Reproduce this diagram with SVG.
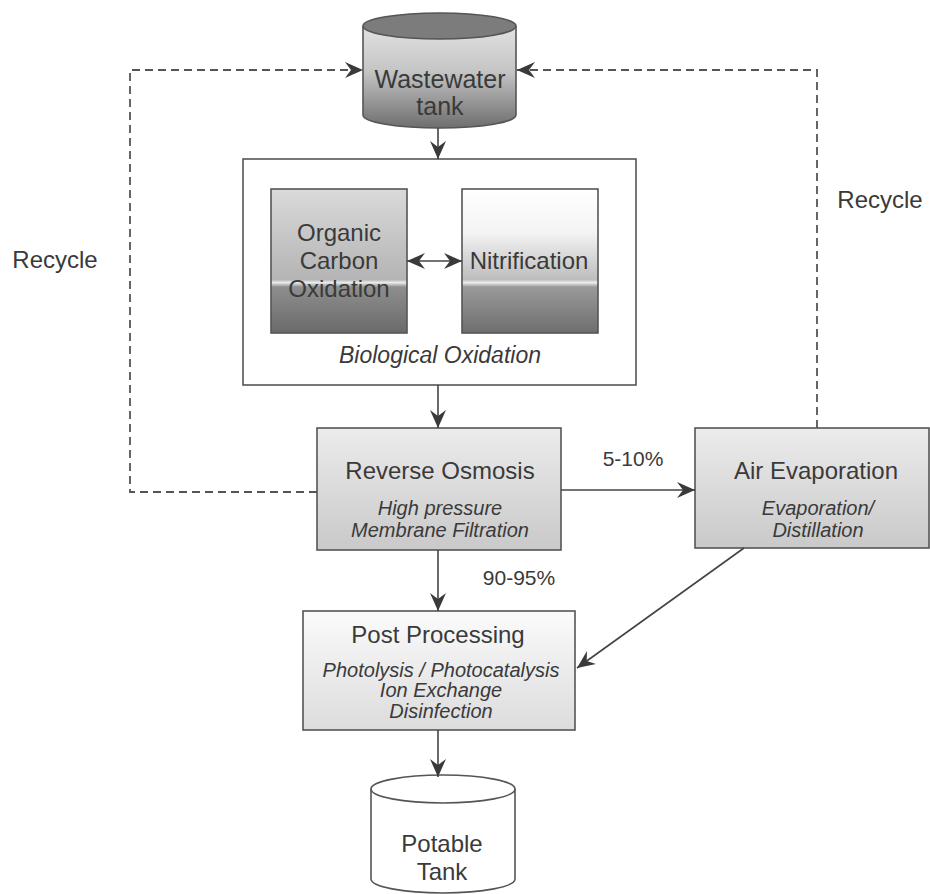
<svg xmlns="http://www.w3.org/2000/svg" width="930" height="894" viewBox="0 0 930 894">
<style>
text{font-family:"Liberation Sans",Arial,sans-serif;fill:#3a3a3a;text-anchor:middle}
.t{font-size:24px}
.s{font-size:20px;font-style:italic}
.p{font-size:21px}
.box{stroke:#555;stroke-width:1.6}
.conn{fill:none;stroke:#444;stroke-width:1.6}
.dash{fill:none;stroke:#555;stroke-width:1.8;stroke-dasharray:8 5}
</style>
<defs>
<marker id="ah" viewBox="0 0 18 16" refX="18" refY="8" markerWidth="18" markerHeight="16" markerUnits="userSpaceOnUse" orient="auto-start-reverse">
<path d="M0,0 L18,8 L0,16 L6,8 z" fill="#3a3a3a"/>
</marker>
<linearGradient id="tankBody" x1="0" y1="0" x2="0" y2="1">
<stop offset="0" stop-color="#e2e2e2"/>
<stop offset="0.45" stop-color="#c4c4c4"/>
<stop offset="1" stop-color="#6e6e6e"/>
</linearGradient>
<linearGradient id="orgGrad" x1="0" y1="0" x2="0" y2="1">
<stop offset="0" stop-color="#dadada"/>
<stop offset="0.63" stop-color="#b4b4b4"/>
<stop offset="0.65" stop-color="#ececec"/>
<stop offset="0.68" stop-color="#8e8e8e"/>
<stop offset="1" stop-color="#6a6a6a"/>
</linearGradient>
<linearGradient id="nitGrad" x1="0" y1="0" x2="0" y2="1">
<stop offset="0" stop-color="#ffffff"/>
<stop offset="0.3" stop-color="#f4f4f4"/>
<stop offset="0.63" stop-color="#bdbdbd"/>
<stop offset="0.65" stop-color="#eeeeee"/>
<stop offset="0.68" stop-color="#9a9a9a"/>
<stop offset="1" stop-color="#6e6e6e"/>
</linearGradient>
<linearGradient id="roGrad" x1="0" y1="0" x2="0" y2="1">
<stop offset="0" stop-color="#ececec"/>
<stop offset="1" stop-color="#c9c9c9"/>
</linearGradient>
<linearGradient id="ppGrad" x1="0" y1="0" x2="0" y2="1">
<stop offset="0" stop-color="#fbfbfb"/>
<stop offset="1" stop-color="#dcdcdc"/>
</linearGradient>
</defs>

<g id="wastewater-tank">
<path class="box" d="M363,26 L363,115 A76.5,13 0 0 0 516,115 L516,26" fill="url(#tankBody)"/>
<ellipse class="box" cx="439.5" cy="26" rx="76.5" ry="13" fill="#7c7c7c"/>
<text class="t" x="440" y="88" style="font-size:25px">Wastewater</text>
<text class="t" x="440" y="115" style="font-size:25px">tank</text>
</g>

<g id="biological-oxidation">
<rect class="box" x="243" y="159" width="393" height="226" fill="#ffffff"/>
<text x="440" y="363" style="font-size:23px;font-style:italic">Biological Oxidation</text>
</g>

<g id="organic-carbon-oxidation">
<rect class="box" x="271" y="189" width="136" height="144" fill="url(#orgGrad)"/>
<text class="t" x="339" y="241">Organic</text>
<text class="t" x="339" y="269">Carbon</text>
<text class="t" x="339" y="297">Oxidation</text>
</g>

<g id="nitrification">
<rect class="box" x="462" y="189" width="136" height="144" fill="url(#nitGrad)"/>
<text class="t" x="529" y="269">Nitrification</text>
</g>

<g id="reverse-osmosis">
<rect class="box" x="317" y="428" width="244" height="122" fill="url(#roGrad)"/>
<text class="t" x="440" y="479">Reverse Osmosis</text>
<text class="s" x="440" y="515">High pressure</text>
<text class="s" x="440" y="537">Membrane Filtration</text>
</g>

<g id="air-evaporation">
<rect class="box" x="695" y="428" width="234" height="120" fill="url(#roGrad)"/>
<text class="t" x="816" y="479">Air Evaporation</text>
<text class="s" x="818" y="515">Evaporation/</text>
<text class="s" x="818" y="537">Distillation</text>
</g>

<g id="post-processing">
<rect class="box" x="303" y="611" width="272" height="119" fill="url(#ppGrad)"/>
<text class="t" x="438" y="643">Post Processing</text>
<text class="s" x="441" y="677">Photolysis / Photocatalysis</text>
<text class="s" x="441" y="697">Ion Exchange</text>
<text class="s" x="441" y="718">Disinfection</text>
</g>

<g id="potable-tank">
<path class="box" d="M371,789 L371,879 A72,14 0 0 0 515,879 L515,789" fill="#ffffff"/>
<ellipse class="box" cx="443" cy="789" rx="72" ry="14" fill="#ffffff"/>
<text class="t" x="442" y="852">Potable</text>
<text class="t" x="442" y="880">Tank</text>
</g>

<g id="connectors">
<line class="conn" x1="438" y1="128" x2="438" y2="159" marker-end="url(#ah)"/>
<line class="conn" x1="407" y1="261" x2="462" y2="261" marker-start="url(#ah)" marker-end="url(#ah)"/>
<line class="conn" x1="438" y1="385" x2="438" y2="428" marker-end="url(#ah)"/>
<line class="conn" x1="561" y1="490" x2="695" y2="490" marker-end="url(#ah)"/>
<line class="conn" x1="438" y1="550" x2="438" y2="611" marker-end="url(#ah)"/>
<line class="conn" x1="744" y1="548" x2="577" y2="668" marker-end="url(#ah)"/>
<line class="conn" x1="438" y1="730" x2="438" y2="777" marker-end="url(#ah)"/>
<polyline class="dash" points="317,492 130,492 130,70 363,70" marker-end="url(#ah)"/>
<polyline class="dash" points="817,428 817,70 517,70" marker-end="url(#ah)"/>
</g>

<g id="labels">
<text class="t" x="55" y="268">Recycle</text>
<text class="t" x="880" y="208">Recycle</text>
<text class="p" x="633" y="466">5-10%</text>
<text class="p" x="519" y="585">90-95%</text>
</g>
</svg>
